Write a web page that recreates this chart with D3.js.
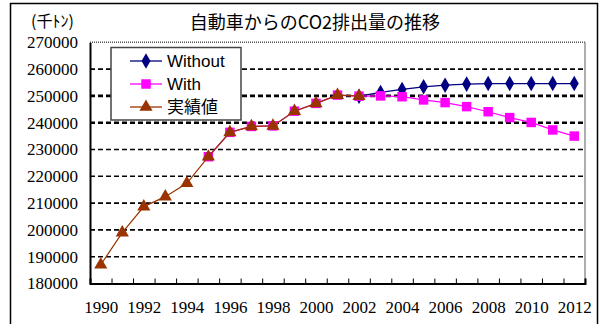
<!DOCTYPE html>
<html>
<head>
<meta charset="utf-8">
<script src="https://cdn.jsdelivr.net/npm/d3@7"></script>
<style>
  html, body { margin: 0; padding: 0; background: #fff; }
  svg { display: block; }
  .serif text { font-family: "Liberation Serif", "DejaVu Serif", serif; }
</style>
</head>
<body>
<svg id="chart" width="600" height="324"></svg>
<script>
// Years on the category axis
const years = [1990, 1991, 1992, 1993, 1994, 1995, 1996, 1997, 1998, 1999, 2000,
               2001, 2002, 2003, 2004, 2005, 2006, 2007, 2008, 2009, 2010, 2011, 2012];
const labelYears = [1990, 1992, 1994, 1996, 1998, 2000, 2002, 2004, 2006, 2008, 2010, 2012];
const yTicks = [180000, 190000, 200000, 210000, 220000, 230000, 240000, 250000, 260000, 270000];

// 実績値 (1990–2002)
const actualYears = [1990, 1991, 1992, 1993, 1994, 1995, 1996, 1997, 1998, 1999, 2000, 2001, 2002];
const actualValues = [187000, 199000, 208700, 212400, 217400, 227300, 236400, 238600, 238800,
                      244300, 247200, 250300, 249900];

// With (1995–2012)
const withYears = [1995, 1996, 1997, 1998, 1999, 2000, 2001, 2002, 2003, 2004, 2005, 2006,
                   2007, 2008, 2009, 2010, 2011, 2012];
const withValues = [227300, 236400, 238600, 238800, 244300, 247200, 250300, 249900, 250000,
                    249700, 248500, 247500, 246000, 244100, 241900, 240100, 237300, 235000];

// Without (2002–2012)
const withoutYears = [2002, 2003, 2004, 2005, 2006, 2007, 2008, 2009, 2010, 2011, 2012];
const withoutValues = [249900, 251300, 252400, 253400, 254000, 254400, 254600, 254600,
                       254600, 254600, 254600];

const svg = d3.select("#chart");
const plotLeft = 90, plotRight = 585, plotTop = 42.3, plotBottom = 283.5;

const x = d3.scaleLinear().domain([years[0] - 0.5, years[years.length - 1] + 0.5]).range([plotLeft, plotRight]);
const y = d3.scaleLinear().domain([180000, 270000]).range([plotBottom, plotTop]);

// outer frame
svg.append("rect").attr("x", 10.5).attr("y", 3.5).attr("width", 587).attr("height", 340)
  .attr("fill", "none").attr("stroke", "#000").attr("stroke-width", 1.5);

// title and unit
svg.append("text").attr("x", 315).attr("y", 29).attr("text-anchor", "middle")
  .style("font-family", "'Noto Sans CJK JP', sans-serif").style("font-size", "18px")
  .text("自動車からのCO2排出量の推移");
svg.append("text").attr("x", 31).attr("y", 27)
  .style("font-family", "'Noto Sans CJK JP', sans-serif").style("font-size", "16px")
  .text("(千ﾄﾝ)");

// horizontal grid lines
const gridVals = yTicks.filter(v => v > 180000 && v < 270000);
svg.append("g").selectAll("line").data(gridVals).join("line")
  .attr("x1", plotLeft).attr("x2", plotRight)
  .attr("y1", d => y(d)).attr("y2", d => y(d))
  .attr("stroke", "#000")
  .attr("stroke-width", d => (d === 240000 || d === 250000) ? 2.6 : 1.6)
  .attr("stroke-dasharray", "5,3");

// top border (dotted) and right border
svg.append("line").attr("x1", plotLeft).attr("x2", plotRight).attr("y1", plotTop).attr("y2", plotTop)
  .attr("stroke", "#555").attr("stroke-width", 1.5).attr("stroke-dasharray", "1,1");
svg.append("line").attr("x1", plotRight).attr("x2", plotRight).attr("y1", plotTop).attr("y2", plotBottom)
  .attr("stroke", "#777").attr("stroke-width", 1.2);

// y axis
const yAxis = svg.append("g").attr("class", "serif").attr("transform", `translate(${plotLeft},0)`)
  .call(d3.axisLeft(y).tickValues(yTicks).tickSize(0).tickPadding(12).tickFormat(d3.format("d")));
yAxis.attr("font-family", null);
yAxis.select(".domain").attr("stroke", "#000").attr("stroke-width", 2);
yAxis.selectAll("text").style("font-size", "17px").attr("fill", "#000");

// x axis: tick marks at category boundaries, labels every other year
const boundaries = years.map(v => v - 0.5).concat([years[years.length - 1] + 0.5]);
const xTickAxis = svg.append("g").attr("transform", `translate(0,${plotBottom})`)
  .call(d3.axisBottom(x).tickValues(boundaries).tickSize(-5).tickFormat(""));
xTickAxis.select(".domain").attr("stroke", "#000").attr("stroke-width", 2);
xTickAxis.selectAll(".tick line").attr("stroke", "#000").attr("stroke-width", 1);

const xLabelAxis = svg.append("g").attr("class", "serif").attr("transform", `translate(0,${plotBottom})`)
  .call(d3.axisBottom(x).tickValues(labelYears).tickSize(0).tickPadding(17).tickFormat(d3.format("d")));
xLabelAxis.attr("font-family", null);
xLabelAxis.select(".domain").remove();
xLabelAxis.selectAll("text").style("font-size", "17px").attr("fill", "#000");

// series
const line = d3.line().x(d => x(d[0])).y(d => y(d[1]));
const zip = (a, b) => a.map((v, i) => [v, b[i]]);

const series = [
  { name: "Without", data: zip(withoutYears, withoutValues), color: "#000080", marker: d3.symbolDiamond, size: 70, width: 1.2 },
  { name: "With", data: zip(withYears, withValues), color: "#FF00FF", marker: d3.symbolSquare, size: 90, width: 1.2 },
  { name: "実績値", data: zip(actualYears, actualValues), color: "#993300", marker: d3.symbolTriangle, size: 75, width: 1.2 }
];

series.forEach(s => {
  const g = svg.append("g");
  g.append("path").datum(s.data).attr("d", line)
    .attr("fill", "none").attr("stroke", s.color).attr("stroke-width", s.width);
  g.selectAll("path.m").data(s.data).join("path").attr("class", "m")
    .attr("transform", d => `translate(${x(d[0])},${y(d[1])})`)
    .attr("d", d3.symbol().type(s.marker).size(s.size))
    .attr("fill", s.color);
});

// legend
const lg = svg.append("g");
lg.append("rect").attr("x", 111).attr("y", 47.5).attr("width", 130).attr("height", 72.5)
  .attr("fill", "#fff").attr("stroke", "#444").attr("stroke-width", 1.5);
const legendY = [61, 84, 107];
series.forEach((s, i) => {
  lg.append("line").attr("x1", 130).attr("x2", 162).attr("y1", legendY[i]).attr("y2", legendY[i])
    .attr("stroke", s.color).attr("stroke-width", 1.3);
  lg.append("path").attr("transform", `translate(146,${legendY[i]})`)
    .attr("d", d3.symbol().type(s.marker).size(s.size)).attr("fill", s.color);
  lg.append("text").attr("x", 167).attr("y", legendY[i] + 6)
    .style("font-family", i === 2 ? "'Noto Sans CJK JP', sans-serif" : "'Liberation Sans', Arial, sans-serif")
    .style("font-size", "17px").attr("fill", "#000").text(s.name);
});
</script>
</body>
</html>
